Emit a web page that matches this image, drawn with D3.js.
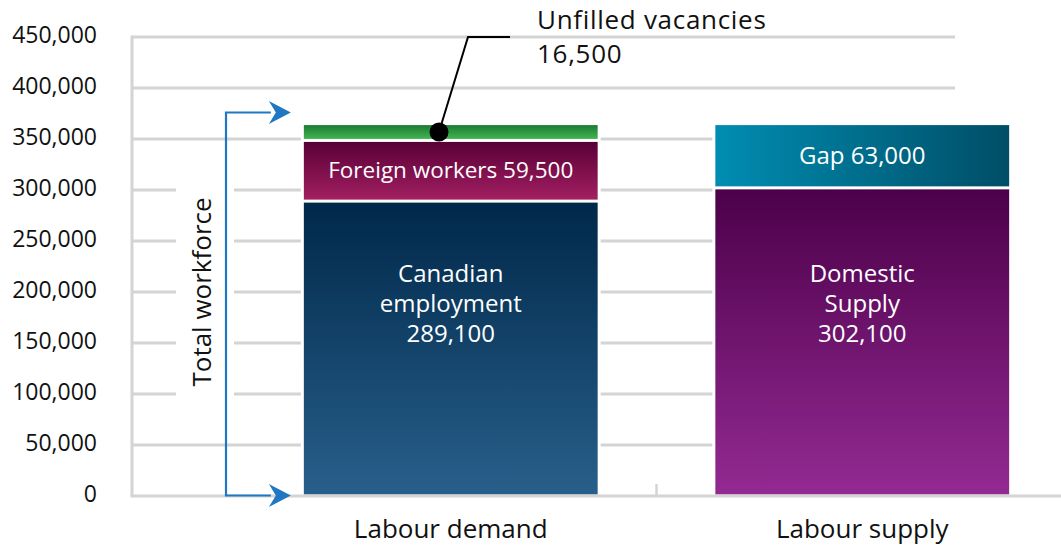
<!DOCTYPE html>
<meta charset="utf-8">
<style>
    body {
        margin: 0;
        background: #fff;
        font-family: "Open Sans", sans-serif;
    }
    .grid line {
        stroke: #d4d4d4;
        stroke-width: 3;
    }
    .ytick text {
        font-size: 23px;
        fill: #111;
    }
    .cat {
        font-size: 26px;
        fill: #111;
    }
    .inbar {
        font-size: 24px;
        fill: #fff;
    }
</style>
<body>
<div id="main"></div>
<script src="https://cdn.jsdelivr.net/npm/d3@7"></script>
<script>

var categories = ["Labour demand", "Labour supply"];

// left bar, bottom to top
var demandParts = ["Canadian employment", "Foreign workers", "Unfilled vacancies"];
var demandValues = [289100, 59500, 16500];

// right bar, bottom to top
var supplyParts = ["Domestic Supply", "Gap"];
var supplyValues = [302100, 63000];

var yTicks = [0, 50000, 100000, 150000, 200000, 250000, 300000, 350000, 400000, 450000];

var width = 1061, height = 547;

var svg = d3.select("#main").append("svg")
        .attr("width", width)
        .attr("height", height);

var y = d3.scaleLinear()
        .domain([0, 450000])
        .range([496, 37]);

var x = d3.scaleBand()
        .domain(categories)
        .range([245, 1068])
        .paddingInner(0.286)
        .paddingOuter(0.143);

var axisLeftX = 132, gridEnd = 955;
var fmt = d3.format(",");

// gradients
var defs = svg.append("defs");
function grad(id, c0, c1, horizontal) {
    var g = defs.append("linearGradient").attr("id", id)
        .attr("x1", 0).attr("y1", 0)
        .attr("x2", horizontal ? 1 : 0).attr("y2", horizontal ? 0 : 1);
    g.append("stop").attr("offset", 0).attr("stop-color", c0);
    g.append("stop").attr("offset", 1).attr("stop-color", c1);
}
grad("g-canada", "#00284a", "#285f8a");
grad("g-foreign", "#5a0036", "#a21f62");
grad("g-unfilled", "#1b7a32", "#44b552");
grad("g-domestic", "#4c004a", "#932a92");
grad("g-gap", "#008db2", "#004e67", true);

// gridlines
var grid = svg.append("g").attr("class", "grid");
grid.selectAll("line.h")
    .data(yTicks.filter(function(d) { return d > 0; }))
    .enter().append("line")
        .attr("class", "h")
        .attr("x1", axisLeftX).attr("x2", gridEnd)
        .attr("y1", function(d) { return y(d); })
        .attr("y2", function(d) { return y(d); });

// white box behind the rotated label
svg.append("rect")
    .attr("x", 176).attr("width", 58)
    .attr("y", y(330000)).attr("height", y(70000) - y(330000))
    .attr("fill", "#fff");

// y axis labels
var yAxis = d3.axisLeft(y)
        .tickValues(yTicks)
        .tickFormat(fmt)
        .tickSize(0)
        .tickPadding(35);
svg.append("g")
    .attr("class", "ytick")
    .attr("transform", "translate(" + axisLeftX + ",0)")
    .call(yAxis)
    .call(function(g) { g.select(".domain").remove(); })
    .selectAll("text")
        .attr("dy", "0.25em")
        .style("font-family", "'Open Sans', sans-serif");

// stacks
function stack(values, names) {
    var acc = 0;
    return values.map(function(v, i) {
        var d = {name: names[i], value: v, y0: acc, y1: acc + v};
        acc += v;
        return d;
    });
}
var demand = stack(demandValues, demandParts);
var supply = stack(supplyValues, supplyParts);
var fills = {
    "Canadian employment": "url(#g-canada)",
    "Foreign workers": "url(#g-foreign)",
    "Unfilled vacancies": "url(#g-unfilled)",
    "Domestic Supply": "url(#g-domestic)",
    "Gap": "url(#g-gap)"
};

var bw = x.bandwidth();
[[categories[0], demand], [categories[1], supply]].forEach(function(pair) {
    var cat = pair[0], segs = pair[1];
    var top = segs[segs.length - 1].y1;
    // white knockout around the bar
    svg.append("rect")
        .attr("x", x(cat) - 3).attr("width", bw + 6)
        .attr("y", y(top) - 1.5).attr("height", y(0) - y(top))
        .attr("fill", "#fff");
    svg.selectAll(null)
        .data(segs)
        .enter().append("rect")
            .attr("x", x(cat))
            .attr("width", bw)
            .attr("y", function(d) { return y(d.y1) + 1.5; })
            .attr("height", function(d) { return y(d.y0) - y(d.y1) - 3; })
            .attr("fill", function(d) { return fills[d.name]; });
});

// axis lines
svg.append("line")
    .attr("x1", axisLeftX).attr("x2", axisLeftX)
    .attr("y1", y(450000) - 1.5).attr("y2", y(0))
    .attr("stroke", "#d4d4d4").attr("stroke-width", 3);
svg.append("line")
    .attr("x1", axisLeftX - 1.5).attr("x2", width)
    .attr("y1", y(0)).attr("y2", y(0))
    .attr("stroke", "#d4d4d4").attr("stroke-width", 3);
var midX = (x(categories[0]) + bw + x(categories[1])) / 2;
svg.append("line")
    .attr("x1", midX).attr("x2", midX)
    .attr("y1", y(0)).attr("y2", y(0) - 12)
    .attr("stroke", "#d4d4d4").attr("stroke-width", 2.5);

// category labels
svg.selectAll("text.cat")
    .data(categories)
    .enter().append("text")
        .attr("class", "cat")
        .attr("x", function(d) { return x(d) + bw / 2; })
        .attr("y", 538)
        .attr("text-anchor", "middle")
        .text(function(d) { return d; });

// in-bar labels
function multiLine(cat, lines, baseY) {
    var t = svg.append("text")
        .attr("class", "inbar")
        .attr("text-anchor", "middle");
    lines.forEach(function(s, i) {
        t.append("tspan")
            .attr("x", x(cat) + bw / 2)
            .attr("y", baseY + i * 30)
            .text(s);
    });
}
multiLine(categories[0], ["Canadian", "employment", fmt(demand[0].value)], 282);
multiLine(categories[1], ["Domestic", "Supply", fmt(supply[0].value)], 282);

function midLabel(cat, seg, label, size) {
    svg.append("text")
        .attr("class", "inbar")
        .attr("text-anchor", "middle")
        .attr("x", x(cat) + bw / 2)
        .attr("y", y((seg.y0 + seg.y1) / 2))
        .attr("dy", "0.33em")
        .style("font-size", size + "px")
        .text(label);
}
midLabel(categories[0], demand[1], "Foreign workers " + fmt(demand[1].value), 22.5);
midLabel(categories[1], supply[1], "Gap " + fmt(supply[1].value), 24);

// unfilled vacancies callout
var uv = demand[2];
var dotX = x(categories[0]) + bw * 0.46, dotY = y((uv.y0 + uv.y1) / 2);
svg.append("path")
    .attr("d", d3.line()([[dotX, dotY], [468, y(450000)], [510, y(450000)]]))
    .attr("fill", "none")
    .attr("stroke", "#000")
    .attr("stroke-width", 2);
svg.append("circle")
    .attr("cx", dotX).attr("cy", dotY).attr("r", 9.5)
    .attr("fill", "#000");
var ut = svg.append("text").attr("class", "cat")
    .style("font-size", "26px")
    .style("letter-spacing", "0.7px");
ut.append("tspan").attr("x", 537).attr("y", 29).text(uv.name);
ut.append("tspan").attr("x", 537).attr("y", 63).text(fmt(uv.value));

// total workforce bracket
var blue = "#1f78c1";
var arrX = 226, arrTop = y(376000), arrBot = y(0) - 0.5, tipX = x(categories[0]) - 13;
svg.append("path")
    .attr("d", d3.line()([[tipX - 20, arrTop], [arrX, arrTop], [arrX, arrBot], [tipX - 20, arrBot]]))
    .attr("fill", "none")
    .attr("stroke", blue)
    .attr("stroke-width", 2.2);
[arrTop, arrBot].forEach(function(ay) {
    svg.append("path")
        .attr("d", "M" + tipX + "," + ay +
            "L" + (tipX - 22) + "," + (ay - 11.5) +
            "L" + (tipX - 15) + "," + ay +
            "L" + (tipX - 22) + "," + (ay + 11.5) + "Z")
        .attr("fill", blue);
});
svg.append("text")
    .attr("class", "cat")
    .attr("transform", "translate(211," + y(200000) + ") rotate(-90)")
    .attr("text-anchor", "middle")
    .text("Total workforce");

</script>
